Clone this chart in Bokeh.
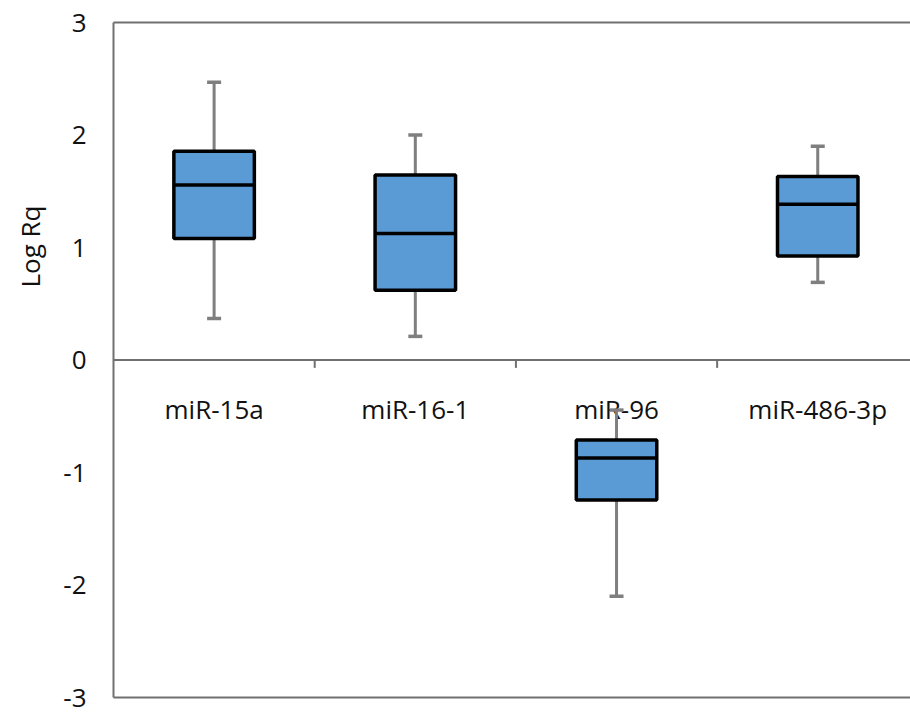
from bokeh.plotting import figure
from bokeh.models import Range1d, FixedTicker, LinearAxis, Span, ColumnDataSource, Title
from bokeh.core.properties import value
from bokeh.embed import file_html
from bokeh.resources import INLINE

# ---- data ----
categories = ["miR-15a", "miR-16-1", "miR-96", "miR-486-3p"]
whisker_low = [0.37, 0.21, -2.10, 0.69]
q1 = [1.08, 0.62, -1.245, 0.925]
median = [1.555, 1.125, -0.872, 1.385]
q3 = [1.855, 1.645, -0.71, 1.632]
whisker_high = [2.47, 2.00, -0.445, 1.90]
y_ticks = [-3, -2, -1, 0, 1, 2, 3]
y_title = "Log Rq"

FONT = "Open Sans"
FRAME = "#707070"
WHISK = "#7f7f7f"
BLUE = "#5b9bd5"
TXT = "#111111"
BOX_W = 0.4

xs = [i + 0.5 for i in range(len(categories))]
bounds = [i for i in range(1, len(categories))]

src = ColumnDataSource(dict(x=xs, lo=whisker_low, q1=q1, med=median, q3=q3,
                            hi=whisker_high, cat=categories,
                            zero=[0] * len(xs),
                            mx0=[x - BOX_W / 2 for x in xs],
                            mx1=[x + BOX_W / 2 for x in xs]))

p = figure(width=910, height=712, output_backend="svg", toolbar_location=None,
           x_range=Range1d(0, 3.961), y_range=Range1d(-3, 3),
           min_border_left=113, min_border_right=0, min_border_top=22,
           min_border_bottom=15, x_axis_type=None)
p.outline_line_color = None
p.xgrid.visible = False
p.ygrid.visible = False
p.background_fill_color = "white"
p.border_fill_color = "white"

# y axis
yax = p.yaxis[0]
yax.ticker = FixedTicker(ticks=y_ticks)
yax.major_label_overrides = {t: str(t) for t in y_ticks}
yax.axis_line_color = FRAME
yax.axis_line_width = 2
yax.major_tick_line_color = None
yax.minor_tick_line_color = None
yax.major_tick_out = 0
yax.major_tick_in = 0
yax.major_label_standoff = 27
yax.major_label_text_font = FONT
yax.major_label_text_font_size = "26px"
yax.major_label_text_color = TXT

# y title placed like the reference (far left, above centre)
p.add_layout(Title(text=y_title, align="right", offset=183, vertical_align="top",
                   text_font=FONT, text_font_size="26px", text_font_style="normal",
                   text_color=TXT, standoff=22), "left")

# top and bottom frame lines
for loc in ("below", "above"):
    ax = LinearAxis(ticker=FixedTicker(ticks=[]), axis_line_color=FRAME,
                    axis_line_width=2, major_tick_line_color=None,
                    minor_tick_line_color=None, major_label_text_font_size="0px",
                    major_tick_out=0, major_tick_in=0, major_label_standoff=0)
    p.add_layout(ax, loc)

# zero line and category boundary ticks
p.add_layout(Span(location=0, dimension="width", line_color=FRAME, line_width=2))
p.segment(x0=bounds, y0=[0] * len(bounds), x1=bounds, y1=[-0.07] * len(bounds),
          line_color=FRAME, line_width=2)

# category labels under the zero line
p.text(x="x", y="zero", text="cat", source=src, y_offset=49,
       text_align="center", text_baseline="alphabetic",
       text_font=value(FONT), text_font_size="26px", text_color=TXT)

# whiskers
p.segment(x0="x", y0="q3", x1="x", y1="hi", source=src, line_color=WHISK, line_width=3)
p.segment(x0="x", y0="q1", x1="x", y1="lo", source=src, line_color=WHISK, line_width=3)
p.scatter(x="x", y="hi", source=src, marker="dash", size=14, line_color=WHISK, line_width=3.5)
p.scatter(x="x", y="lo", source=src, marker="dash", size=14, line_color=WHISK, line_width=3.5)

# boxes
p.vbar(x="x", top="q3", bottom="q1", width=BOX_W, source=src, fill_color=BLUE,
       line_color="black", line_width=3.5)
p.segment(x0="mx0", y0="med", x1="mx1", y1="med", source=src,
          line_color="black", line_width=3.5)

open("out.html", "w").write(file_html(p, INLINE))
